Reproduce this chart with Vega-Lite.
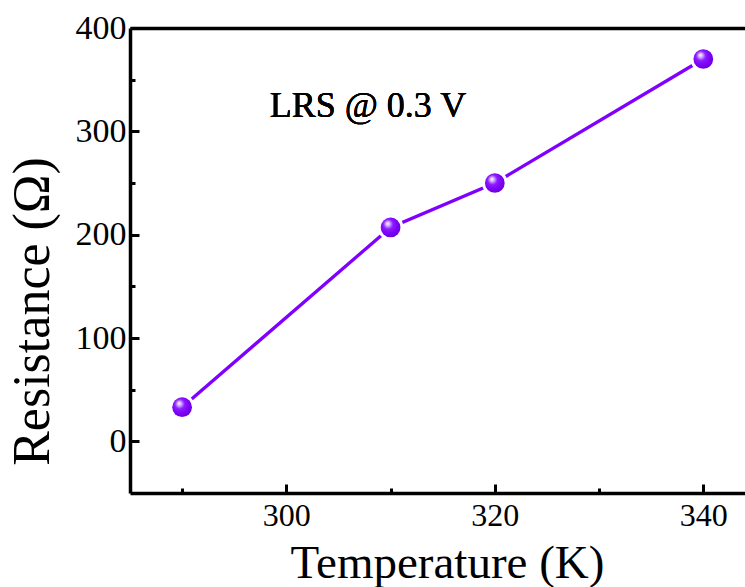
{
  "$schema": "https://vega.github.io/schema/vega-lite/v6.json",
  "width": 615,
  "height": 465,
  "autosize": {"type": "none"},
  "padding": {"left": 130, "top": 28, "right": 0, "bottom": 94},
  "background": "white",
  "config": {"view": {"stroke": null}, "font": "Liberation Serif"},
  "data": {"values": [
    {"temperature": 290, "resistance": 33},
    {"temperature": 310, "resistance": 207},
    {"temperature": 320, "resistance": 250},
    {"temperature": 340, "resistance": 370}
  ]},
  "layer": [
    {
      "mark": {"type": "line", "color": "#7F00FF", "strokeWidth": 3.3, "clip": true},
      "encoding": {
        "x": {"field": "temperature", "type": "quantitative", "scale": {"domain": [285, 344], "nice": false, "zero": false},
          "axis": {"orient": "bottom", "values": [300, 320, 340], "title": "Temperature (K)", "grid": false,
            "domainColor": "black", "domainWidth": 3.5, "tickColor": "black", "tickWidth": 3, "tickSize": -9,
            "labelFont": "Liberation Serif", "labelFontSize": 32, "labelFontWeight": "normal", "labelColor": "black", "labelPadding": 16,
            "titleFont": "Liberation Serif", "titleFontSize": 47, "titleFontWeight": "normal", "titleColor": "black",
            "titleX": 317, "titleY": 84, "titleAlign": "center", "titleBaseline": "alphabetic"}},
        "y": {"field": "resistance", "type": "quantitative", "scale": {"domain": [-50, 400], "nice": false, "zero": false},
          "axis": {"orient": "left", "values": [0, 100, 200, 300, 400], "title": "Resistance (Ω)", "grid": false,
            "domainColor": "black", "domainWidth": 3.5, "tickColor": "black", "tickWidth": 3, "tickSize": -9,
            "labelFont": "Liberation Serif", "labelFontSize": 34, "labelFontWeight": "normal", "labelColor": "black", "labelPadding": 13,
            "titleFont": "Liberation Serif", "titleFontSize": 52, "titleFontWeight": "normal", "titleColor": "black",
            "titleAngle": -90, "titleX": -82, "titleY": 283, "titleAlign": "center", "titleBaseline": "alphabetic"}}
      }
    },
    {
      "mark": {"type": "point", "shape": "circle", "filled": true, "fill": "white", "stroke": null, "size": 660, "opacity": 1},
      "encoding": {
        "x": {"field": "temperature", "type": "quantitative", "scale": {"domain": [285, 344], "nice": false, "zero": false},
          "axis": {"orient": "bottom", "values": [290, 310, 330], "title": null, "grid": false, "labels": false, "domain": false,
            "tickColor": "black", "tickWidth": 3, "tickSize": -5}},
        "y": {"field": "resistance", "type": "quantitative", "scale": {"domain": [-50, 400], "nice": false, "zero": false},
          "axis": {"orient": "left", "values": [50, 150, 250, 350], "title": null, "grid": false, "labels": false, "domain": false,
            "tickColor": "black", "tickWidth": 3, "tickSize": -5}}
      }
    },
    {
      "mark": {"type": "point", "shape": "circle", "filled": true, "size": 390, "opacity": 1, "stroke": null,
        "fill": {"gradient": "radial", "x1": 0.35, "y1": 0.3, "r1": 0, "x2": 0.42, "y2": 0.4, "r2": 0.62,
          "stops": [
            {"offset": 0, "color": "#ffffff"},
            {"offset": 0.15, "color": "#d9b8ff"},
            {"offset": 0.4, "color": "#8c1cff"},
            {"offset": 0.75, "color": "#7a00f5"},
            {"offset": 1, "color": "#6a00d8"}
          ]}},
      "encoding": {
        "x": {"field": "temperature", "type": "quantitative", "scale": {"domain": [285, 344], "nice": false, "zero": false},
          "axis": {"orient": "top", "title": null, "grid": false, "labels": false, "ticks": false,
            "domain": true, "domainColor": "black", "domainWidth": 3.5}},
        "y": {"field": "resistance", "type": "quantitative", "scale": {"domain": [-50, 400], "nice": false, "zero": false}, "axis": null}
      }
    },
    {
      "mark": {"type": "text", "text": "LRS @ 0.3 V", "font": "Liberation Serif", "fontSize": 36, "fontWeight": "normal", "color": "black", "align": "left", "baseline": "middle"},
      "encoding": {
        "x": {"datum": 298.4, "type": "quantitative", "scale": {"domain": [285, 344], "nice": false, "zero": false}, "axis": null},
        "y": {"datum": 324.5, "type": "quantitative", "scale": {"domain": [-50, 400], "nice": false, "zero": false}, "axis": null}
      }
    }
  ],
  "resolve": {"axis": {"x": "independent", "y": "independent"}}
}
